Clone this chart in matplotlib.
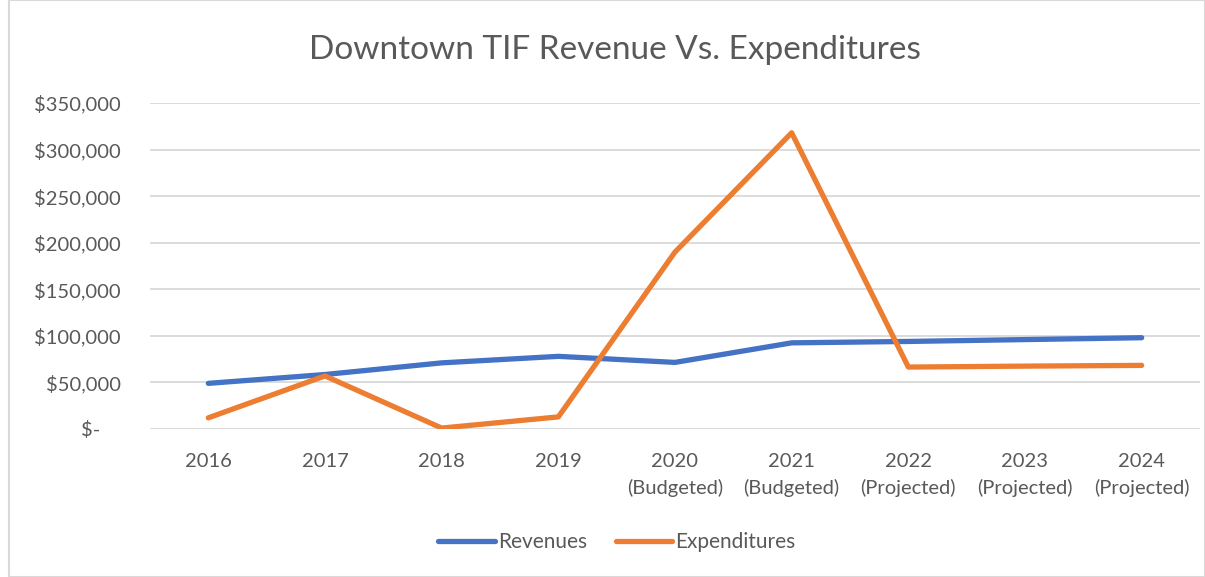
import matplotlib.pyplot as plt
from matplotlib.patches import Rectangle
from matplotlib.ticker import FuncFormatter

years = ["2016", "2017", "2018", "2019", "2020\n(Budgeted)", "2021\n(Budgeted)",
         "2022\n(Projected)", "2023\n(Projected)", "2024\n(Projected)"]
revenues = [49000, 58500, 71000, 78000, 71500, 92500, 94000, 96000, 98000]
expenditures = [12000, 57000, 1000, 13000, 190000, 318000, 66500, 67500, 68300]

TEXT = "#595959"
plt.rcParams["font.family"] = ["Lato", "DejaVu Sans"]

fig = plt.figure(figsize=(12.05, 5.77), dpi=100)
ax = fig.add_axes([150 / 1205, 148 / 577, (1200 - 150) / 1205, (474 - 148) / 577])

x = range(len(years))
ax.plot(x, revenues, color="#4472C4", lw=3.8, solid_capstyle="round", label="Revenues")
ax.plot(x, expenditures, color="#ED7D31", lw=3.8, solid_capstyle="round", label="Expenditures")

ax.set_xlim(-0.5, len(years) - 0.5)
ax.set_ylim(0, 350000)
ax.set_yticks(range(0, 350001, 50000))


def money(v, pos):
    if v == 0:
        return "$-    "
    return "${:,.0f}".format(v)


ax.yaxis.set_major_formatter(FuncFormatter(money))
ax.set_xticks(list(x))
ax.set_xticklabels(years, linespacing=1.6)
ax.tick_params(axis="both", length=0, colors=TEXT, labelsize=14.5)
ax.tick_params(axis="x", pad=17)
ax.tick_params(axis="y", pad=21)
ax.grid(axis="y", color="#D9D9D9", lw=1.3)
ax.set_axisbelow(True)
for s in ax.spines.values():
    s.set_visible(False)

fig.text(0.51, 1 - 50 / 577, "Downtown TIF Revenue Vs. Expenditures", ha="center", va="center",
         fontsize=24, color=TEXT)

fig.legend(loc="center", bbox_to_anchor=(0.512, 1 - 542 / 577), ncol=2, frameon=False,
           fontsize=15, labelcolor=TEXT, handlelength=2.7, handletextpad=0.15, columnspacing=1.4)

fig.patches.append(Rectangle((9 / 1205, 0), 1 - 9 / 1205, 1, transform=fig.transFigure,
                             fill=False, edgecolor="#D9D9D9", lw=1.5))

fig.savefig("out.png", dpi=100)
